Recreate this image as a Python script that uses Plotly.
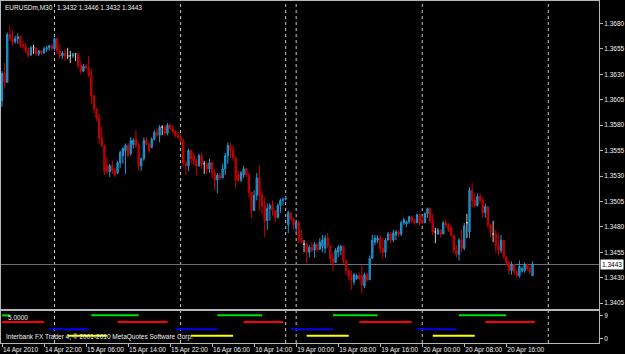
import plotly.graph_objects as go

# ---------------- data (EURUSDm, M30) ----------------
open_ = [
1.3604,1.3631,1.3622,1.3669,1.3665,1.3662,1.3665,1.3667,1.3659,1.3657,
1.3653,1.3649,1.3656,1.3656,1.3650,1.3653,1.3651,1.3655,1.3656,1.3658,
1.3655,1.3665,1.3653,1.3648,1.3651,1.3648,1.3648,1.3648,1.3650,1.3650,
1.3639,1.3633,1.3638,1.3636,1.3629,1.3609,1.3596,1.3587,1.3567,1.3560,
1.3540,1.3534,1.3540,1.3535,1.3533,1.3543,1.3550,1.3555,1.3560,1.3552,
1.3561,1.3567,1.3560,1.3540,1.3547,1.3565,1.3561,1.3558,1.3566,1.3573,
1.3570,1.3578,1.3578,1.3572,1.3580,1.3577,1.3574,1.3570,1.3568,1.3564,
1.3543,1.3540,1.3555,1.3550,1.3545,1.3540,1.3550,1.3542,1.3542,1.3537,
1.3543,1.3533,1.3526,1.3531,1.3528,1.3537,1.3550,1.3560,1.3555,1.3548,
1.3531,1.3526,1.3531,1.3537,1.3531,1.3514,1.3496,1.3511,1.3528,1.3511,
1.3501,1.3486,1.3498,1.3501,1.3496,1.3489,1.3501,1.3506,1.3507,1.3482,
1.3494,1.3488,1.3479,1.3484,1.3469,1.3463,1.3463,1.3455,1.3460,1.3457,
1.3463,1.3458,1.3461,1.3459,1.3469,1.3461,1.3449,1.3445,1.3455,1.3457,
1.3461,1.3447,1.3437,1.3432,1.3426,1.3429,1.3432,1.3432,1.3422,1.3433,
1.3428,1.3449,1.3465,1.3467,1.3469,1.3459,1.3455,1.3467,1.3473,1.3467,
1.3472,1.3475,1.3473,1.3484,1.3483,1.3485,1.3490,1.3486,1.3484,1.3492,
1.3486,1.3484,1.3493,1.3498,1.3486,1.3475,1.3473,1.3477,1.3473,1.3484,
1.3482,1.3479,1.3472,1.3457,1.3453,1.3467,1.3459,1.3484,1.3475,1.3516,
1.3506,1.3501,1.3510,1.3506,1.3494,1.3500,1.3482,1.3473,1.3473,1.3462,
1.3457,1.3467,1.3451,1.3445,1.3437,1.3443,1.3436,1.3432,1.3437,1.3437,
1.3443,1.3439,1.3432]

high = [
1.3633,1.3641,1.3671,1.3678,1.3673,1.3668,1.3670,1.3668,1.3663,1.3660,
1.3656,1.3658,1.3659,1.3656,1.3654,1.3654,1.3657,1.3658,1.3659,1.3660,
1.3666,1.3666,1.3660,1.3653,1.3655,1.3656,1.3653,1.3651,1.3650,1.3650,
1.3643,1.3640,1.3640,1.3648,1.3635,1.3609,1.3596,1.3591,1.3578,1.3560,
1.3548,1.3542,1.3545,1.3538,1.3545,1.3555,1.3558,1.3562,1.3562,1.3568,
1.3567,1.3575,1.3563,1.3548,1.3568,1.3568,1.3563,1.3568,1.3575,1.3577,
1.3580,1.3580,1.3580,1.3582,1.3582,1.3580,1.3575,1.3573,1.3572,1.3567,
1.3545,1.3557,1.3555,1.3553,1.3547,1.3552,1.3553,1.3545,1.3543,1.3547,
1.3545,1.3537,1.3533,1.3533,1.3542,1.3553,1.3563,1.3562,1.3560,1.3548,
1.3535,1.3535,1.3540,1.3538,1.3533,1.3514,1.3516,1.3533,1.3540,1.3516,
1.3509,1.3503,1.3503,1.3506,1.3496,1.3503,1.3508,1.3509,1.3510,1.3496,
1.3494,1.3489,1.3486,1.3486,1.3477,1.3467,1.3465,1.3462,1.3465,1.3465,
1.3464,1.3469,1.3472,1.3472,1.3474,1.3462,1.3455,1.3459,1.3462,1.3462,
1.3461,1.3447,1.3439,1.3437,1.3435,1.3434,1.3435,1.3442,1.3435,1.3435,
1.3452,1.3472,1.3472,1.3472,1.3472,1.3469,1.3469,1.3475,1.3475,1.3477,
1.3477,1.3477,1.3486,1.3489,1.3486,1.3491,1.3491,1.3488,1.3493,1.3493,
1.3491,1.3494,1.3499,1.3499,1.3493,1.3479,1.3479,1.3477,1.3486,1.3488,
1.3484,1.3482,1.3472,1.3462,1.3469,1.3477,1.3484,1.3493,1.3519,1.3523,
1.3513,1.3513,1.3513,1.3509,1.3503,1.3500,1.3483,1.3486,1.3477,1.3474,
1.3472,1.3467,1.3451,1.3447,1.3446,1.3443,1.3437,1.3447,1.3441,1.3445,
1.3444,1.3442,1.3446]

low = [
1.3598,1.3616,1.3622,1.3663,1.3658,1.3660,1.3660,1.3656,1.3655,1.3651,
1.3646,1.3648,1.3650,1.3648,1.3648,1.3649,1.3650,1.3652,1.3653,1.3654,
1.3653,1.3650,1.3645,1.3645,1.3643,1.3645,1.3641,1.3646,1.3643,1.3636,
1.3630,1.3632,1.3635,1.3627,1.3601,1.3592,1.3584,1.3562,1.3558,1.3531,
1.3532,1.3529,1.3532,1.3529,1.3532,1.3538,1.3542,1.3532,1.3548,1.3550,
1.3557,1.3558,1.3535,1.3535,1.3545,1.3560,1.3553,1.3558,1.3565,1.3568,
1.3563,1.3570,1.3570,1.3570,1.3575,1.3572,1.3568,1.3567,1.3563,1.3540,
1.3531,1.3535,1.3542,1.3540,1.3531,1.3539,1.3537,1.3532,1.3532,1.3533,
1.3528,1.3516,1.3513,1.3526,1.3528,1.3531,1.3542,1.3548,1.3545,1.3518,
1.3524,1.3524,1.3528,1.3529,1.3509,1.3489,1.3496,1.3506,1.3496,1.3493,
1.3470,1.3477,1.3486,1.3491,1.3484,1.3489,1.3494,1.3501,1.3506,1.3474,
1.3486,1.3477,1.3474,1.3464,1.3464,1.3455,1.3444,1.3450,1.3455,1.3450,
1.3455,1.3457,1.3455,1.3454,1.3459,1.3444,1.3437,1.3445,1.3450,1.3452,
1.3444,1.3433,1.3428,1.3418,1.3423,1.3428,1.3428,1.3415,1.3420,1.3426,
1.3428,1.3449,1.3462,1.3464,1.3454,1.3449,1.3450,1.3467,1.3464,1.3465,
1.3467,1.3470,1.3471,1.3482,1.3480,1.3483,1.3484,1.3482,1.3484,1.3481,
1.3483,1.3484,1.3489,1.3484,1.3472,1.3464,1.3472,1.3470,1.3473,1.3479,
1.3475,1.3470,1.3454,1.3450,1.3447,1.3455,1.3457,1.3469,1.3469,1.3499,
1.3499,1.3500,1.3503,1.3489,1.3489,1.3479,1.3470,1.3465,1.3455,1.3452,
1.3454,1.3449,1.3442,1.3433,1.3433,1.3433,1.3430,1.3430,1.3435,1.3435,
1.3437,1.3433,1.3432]

close = [
1.3631,1.3622,1.3669,1.3665,1.3662,1.3665,1.3667,1.3659,1.3657,1.3653,
1.3649,1.3656,1.3656,1.3650,1.3653,1.3651,1.3655,1.3656,1.3658,1.3655,
1.3665,1.3653,1.3648,1.3651,1.3648,1.3648,1.3648,1.3650,1.3650,1.3639,
1.3633,1.3638,1.3636,1.3629,1.3609,1.3596,1.3587,1.3567,1.3560,1.3535,
1.3534,1.3540,1.3535,1.3531,1.3543,1.3553,1.3557,1.3560,1.3550,1.3565,
1.3565,1.3560,1.3540,1.3547,1.3565,1.3561,1.3555,1.3566,1.3573,1.3570,
1.3578,1.3578,1.3572,1.3580,1.3577,1.3574,1.3570,1.3568,1.3564,1.3543,
1.3540,1.3555,1.3547,1.3545,1.3540,1.3550,1.3542,1.3542,1.3537,1.3543,
1.3533,1.3526,1.3531,1.3528,1.3537,1.3550,1.3560,1.3555,1.3548,1.3526,
1.3526,1.3533,1.3537,1.3531,1.3514,1.3496,1.3511,1.3528,1.3511,1.3501,
1.3486,1.3498,1.3501,1.3496,1.3489,1.3501,1.3506,1.3507,1.3508,1.3494,
1.3488,1.3482,1.3484,1.3469,1.3465,1.3463,1.3455,1.3460,1.3457,1.3463,
1.3458,1.3465,1.3467,1.3469,1.3461,1.3449,1.3445,1.3457,1.3460,1.3461,
1.3447,1.3437,1.3432,1.3428,1.3433,1.3432,1.3429,1.3423,1.3433,1.3428,
1.3449,1.3467,1.3469,1.3469,1.3459,1.3455,1.3467,1.3473,1.3467,1.3474,
1.3475,1.3473,1.3484,1.3487,1.3485,1.3490,1.3486,1.3484,1.3492,1.3484,
1.3484,1.3493,1.3498,1.3486,1.3475,1.3475,1.3477,1.3473,1.3484,1.3482,
1.3477,1.3472,1.3457,1.3453,1.3467,1.3459,1.3481,1.3484,1.3516,1.3506,
1.3501,1.3510,1.3506,1.3494,1.3500,1.3482,1.3475,1.3473,1.3462,1.3457,
1.3467,1.3451,1.3445,1.3437,1.3443,1.3436,1.3432,1.3441,1.3439,1.3443,
1.3439,1.3436,1.3443]

bars = list(range(len(close)))

tick_bars = [0, 16, 32, 48, 64, 80, 96, 112, 128, 144, 160, 176, 192]
tick_labels = ["14 Apr 2010", "14 Apr 22:00", "15 Apr 06:00", "15 Apr 14:00",
               "15 Apr 22:00", "16 Apr 06:00", "16 Apr 14:00", "19 Apr 00:00",
               "19 Apr 08:00", "19 Apr 16:00", "20 Apr 00:00", "20 Apr 08:00",
               "20 Apr 16:00"]
price_ticks = [1.3405, 1.3430, 1.3455, 1.3480, 1.3505, 1.3530,
               1.3555, 1.3580, 1.3605, 1.3630, 1.3655, 1.3680]
day_separators = [20, 68, 108, 112, 160, 208]
last_price = 1.3443
symbol = "EURUSDm,M30"
last_ohlc = "1.3432 1.3446 1.3432 1.3443"

# indicator sub-window: session bars (start bar, end bar) and level
green_sessions = [(0, 3), (34, 52), (82, 99), (126, 143), (174, 192)]
red_sessions = [(0, 16), (44, 63), (92, 107), (136, 156), (184, 203)]
blue_sessions = [(18, 33), (66, 82), (110, 126), (158, 173)]
yellow_sessions = [(25, 40), (72, 88), (116, 132), (164, 180)]
session_levels = {"green": 9.0, "red": 6.4, "blue": 3.6, "yellow": 1.0}
indicator_value = "5.0000"

# ---------------- figure ----------------
BULL_LINE, BULL_FILL = "#1f9ad6", "#16709c"
BEAR_LINE, BEAR_FILL = "#d00000", "#8a0000"
DOJI = "#d0d0d0"
FRAME = "#b8b8b8"
FONT = "Liberation Sans"

up = [i for i in bars if close[i] > open_[i]]
dn = [i for i in bars if close[i] < open_[i]]
dj = [i for i in bars if close[i] == open_[i]]


def pick(idx, arr):
    return [arr[i] for i in idx]


fig = go.Figure()
for idx, lc, fc in [(up, BULL_LINE, BULL_FILL), (dn, BEAR_LINE, BEAR_FILL), (dj, DOJI, DOJI)]:
    style = dict(line=dict(color=lc, width=1), fillcolor=fc)
    fig.add_trace(go.Candlestick(
        x=pick(idx, bars), open=pick(idx, open_), high=pick(idx, high),
        low=pick(idx, low), close=pick(idx, close),
        increasing=style, decreasing=style, whiskerwidth=0,
        showlegend=False, hoverinfo="skip", xaxis="x", yaxis="y"))

for sessions, name, color in [(green_sessions, "green", "#00e000"),
                              (red_sessions, "red", "#ff0000"),
                              (blue_sessions, "blue", "#0000f0"),
                              (yellow_sessions, "yellow", "#ffff00")]:
    xs, ys = [], []
    for s, e in sessions:
        xs += [s, e, None]
        ys += [session_levels[name]] * 2 + [None]
    fig.add_trace(go.Scatter(x=xs, y=ys, mode="lines", line=dict(color=color, width=2),
                             xaxis="x2", yaxis="y2", showlegend=False, hoverinfo="skip"))

shapes = []
for b in day_separators:
    shapes.append(dict(type="line", xref="x", yref="paper", x0=b, x1=b, y0=0, y1=1,
                       line=dict(color="#c8c8c8", width=1, dash="dot"), layer="below"))
shapes.append(dict(type="line", xref="paper", yref="y", x0=0, x1=1, y0=last_price, y1=last_price,
                   line=dict(color="#6c737c", width=1), layer="below"))

H = 343.0
annotations = [
    dict(text=symbol, xref="paper", yref="paper", x=2 / 600, y=(H - 7) / H,
         xanchor="left", yanchor="middle", showarrow=False,
         font=dict(family=FONT, size=6.5, color="#f0f0f0")),
    dict(text=last_ohlc, xref="paper", yref="paper", x=54 / 600, y=(H - 7) / H,
         xanchor="left", yanchor="middle", showarrow=False,
         font=dict(family=FONT, size=6.5, color="#f0f0f0")),
    dict(text=indicator_value, xref="paper", yref="paper", x=5 / 600, y=(H - 317) / H,
         xanchor="left", yanchor="middle", showarrow=False,
         font=dict(family=FONT, size=6.5, color="#f0f0f0")),
    dict(text="Interbank FX Trader 4, © 2001-2010 MetaQuotes Software Corp.",
         xref="paper", yref="paper", x=3 / 600, y=(H - 337) / H,
         xanchor="left", yanchor="middle", showarrow=False,
         font=dict(family=FONT, size=6.5, color="#f0f0f0")),
    dict(text=f"{last_price:.4f}", xref="paper", yref="y", x=1, xshift=1, y=last_price,
         xanchor="left", yanchor="middle", showarrow=False, bgcolor="white",
         borderpad=1, font=dict(family=FONT, size=6.5, color="black")),
]

xr = [-0.38, 227.3]
axis_common = dict(showgrid=False, zeroline=False, showline=True, linecolor=FRAME,
                   linewidth=1, mirror=True, fixedrange=True)

fig.update_layout(
    width=625, height=354,
    margin=dict(l=0, r=25, t=0, b=11),
    paper_bgcolor="#000000", plot_bgcolor="#000000",
    showlegend=False,
    font=dict(family=FONT, size=6.5, color="#f0f0f0"),
    xaxis=dict(domain=[0, 1], range=xr, anchor="y", showticklabels=False, ticks="",
               rangeslider=dict(visible=False), **axis_common),
    yaxis=dict(domain=[34 / H, 1], range=[1.33992, 1.3702], side="right", anchor="x",
               tickvals=price_ticks, ticktext=[f"{v:.4f}" for v in price_ticks],
               ticks="outside", ticklen=3, tickcolor=FRAME,
               tickfont=dict(family=FONT, size=6.5, color="#f0f0f0"), **axis_common),
    xaxis2=dict(domain=[0, 1], range=xr, anchor="y2", tickvals=tick_bars, ticktext=tick_labels,
                ticks="outside", ticklen=3, tickcolor=FRAME, tickangle=0,
                ticklabelposition="outside right",
                tickfont=dict(family=FONT, size=6.5, color="#f0f0f0"), **axis_common),
    yaxis2=dict(domain=[0, 32 / H], range=[-1.84, 10.68], side="right", anchor="x2",
                tickvals=[0, 9], ticktext=["0", "9"], ticks="outside", ticklen=3,
                tickcolor=FRAME, tickfont=dict(family=FONT, size=6.5, color="#f0f0f0"),
                **axis_common),
    shapes=shapes,
    annotations=annotations,
)

fig.write_html("out.html")
